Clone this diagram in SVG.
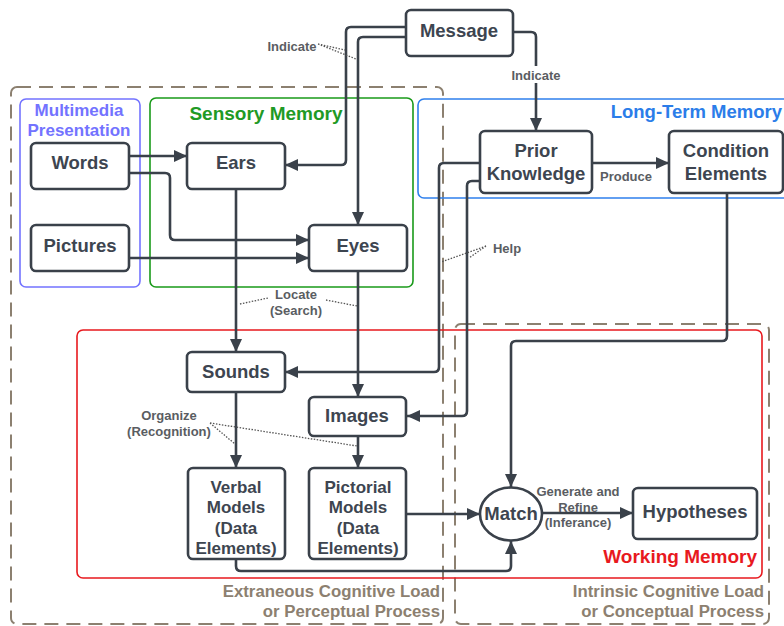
<svg xmlns="http://www.w3.org/2000/svg" width="784" height="626" viewBox="0 0 784 626">
<defs>
<marker id="arr" markerUnits="userSpaceOnUse" markerWidth="14" markerHeight="12" refX="13" refY="6" orient="auto">
<path d="M0,0 L13,6 L0,12 Z" fill="#3a414a"/>
</marker>
<style>
text{font-family:"Liberation Sans",Arial,sans-serif;font-weight:bold}
.node rect,.node ellipse{fill:#fff;stroke:#3a414a;stroke-width:2.6}
.nt{font-size:18.5px;fill:#3d4550;text-anchor:middle}
.mt{font-size:17px;fill:#3d4550;text-anchor:middle}
.lbl{font-size:13px;fill:#5a5d62;text-anchor:middle}
.con{fill:none;stroke:#3a414a;stroke-width:2.6;marker-end:url(#arr)}
.dot{fill:none;stroke:#555;stroke-width:1.3;stroke-dasharray:1.5 1.5}
.dash{fill:none;stroke:#8c8070;stroke-width:2;stroke-dasharray:14 8}
.load{font-size:16.8px;fill:#8c8070;text-anchor:end}
</style>
</defs>
<rect width="784" height="626" fill="#fff"/>
<g id="containers">
<rect class="dash" x="11" y="87" width="432" height="537" rx="6"/>
<rect class="dash" x="455" y="324" width="314" height="300" rx="6"/>
<rect x="20" y="99" width="120" height="188" rx="6" fill="none" stroke="#7373ff" stroke-width="1.6"/>
<rect x="150" y="98" width="263" height="189" rx="6" fill="none" stroke="#1a9a1a" stroke-width="1.6"/>
<rect x="418" y="99" width="380" height="99" rx="6" fill="none" stroke="#2f80ed" stroke-width="1.6"/>
<rect x="77" y="330" width="685" height="248" rx="6" fill="none" stroke="#e8191e" stroke-width="1.6"/>
<text x="79" y="116" font-size="17" fill="#7373ff" text-anchor="middle">Multimedia</text>
<text x="79" y="136" font-size="17" fill="#7373ff" text-anchor="middle">Presentation</text>
<text x="266" y="120" font-size="19" fill="#1f9a25" text-anchor="middle">Sensory Memory</text>
<text x="782" y="118" font-size="18.5" fill="#2b7de9" text-anchor="end">Long-Term Memory</text>
<text x="757" y="563" font-size="19" fill="#e8191e" text-anchor="end">Working Memory</text>
<text class="load" x="440" y="597">Extraneous Cognitive Load</text>
<text class="load" x="440" y="617">or Perceptual Process</text>
<text class="load" x="764" y="597">Intrinsic Cognitive Load</text>
<text class="load" x="764" y="617">or Conceptual Process</text>
</g>
<g id="connectors">
<path class="con" d="M129,156 H187"/>
<path class="con" d="M129,173 H165 Q170,173 170,178 V235 Q170,240 175,240 H309"/>
<path class="con" d="M129,258 H309"/>
<path class="con" d="M406,27 H351 Q346,27 346,32 V160 Q346,165 341,165 H285"/>
<path class="con" d="M406,37 H363 Q358,37 358,42 V225"/>
<path class="con" d="M513,32 H531 Q536,32 536,37 V131"/>
<path class="con" d="M592,163 H669"/>
<path class="con" d="M480,163 H444 Q439,163 439,168 V367 Q439,372 434,372 H285"/>
<path class="con" d="M480,181 H472 Q467,181 467,186 V411 Q467,416 462,416 H407"/>
<path class="con" d="M727,193 V336 Q727,341 722,341 H516 Q511,341 511,346 V487"/>
<path class="con" d="M236,189 V352"/>
<path class="con" d="M358,271 V397"/>
<path class="con" d="M236,392 V468"/>
<path class="con" d="M358,436 V468"/>
<path class="con" d="M406,514 H480"/>
<path class="con" d="M236,559 V566 Q236,571 241,571 H506 Q511,571 511,566 V541"/>
<path class="con" d="M542,513 H633"/>
<path class="dot" d="M318,44 L345,50 M318,44 L356,59"/>
<path class="dot" d="M486,246 L441,262 M486,246 L469,258"/>
<path class="dot" d="M240,304 L268,298 M326,300 L357,306"/>
<path class="dot" d="M210,423 L235,444 M210,423 L357,446"/>
<rect x="509" y="66" width="54" height="17" fill="#fff"/>
<text class="lbl" x="292" y="51">Indicate</text>
<text class="lbl" x="536" y="80">Indicate</text>
<text class="lbl" x="626" y="181">Produce</text>
<text class="lbl" x="507" y="253">Help</text>
<text class="lbl" x="296" y="299">Locate</text>
<text class="lbl" x="296" y="315">(Search)</text>
<text class="lbl" x="169" y="420">Organize</text>
<text class="lbl" x="169" y="436">(Recognition)</text>
<text class="lbl" x="578" y="496">Generate and</text>
<text class="lbl" x="578" y="512">Refine</text>
<text class="lbl" x="578" y="527">(Inferance)</text>
</g>
<g id="message" class="node"><rect x="406" y="10" width="107" height="46" rx="5"/><text class="nt" x="459" y="37">Message</text></g>
<g id="words" class="node"><rect x="31" y="143" width="98" height="46" rx="5"/><text class="nt" x="80" y="169">Words</text></g>
<g id="pictures" class="node"><rect x="31" y="225" width="98" height="46" rx="5"/><text class="nt" x="80" y="252">Pictures</text></g>
<g id="ears" class="node"><rect x="187" y="143" width="98" height="46" rx="5"/><text class="nt" x="236" y="169">Ears</text></g>
<g id="eyes" class="node"><rect x="309" y="225" width="98" height="46" rx="5"/><text class="nt" x="358" y="252">Eyes</text></g>
<g id="prior" class="node"><rect x="480" y="131" width="112" height="62" rx="5"/><text class="nt" x="536" y="157">Prior</text><text class="nt" x="536" y="180">Knowledge</text></g>
<g id="condition" class="node"><rect x="669" y="131" width="114" height="62" rx="5"/><text class="nt" x="726" y="157">Condition</text><text class="nt" x="726" y="180">Elements</text></g>
<g id="sounds" class="node"><rect x="187" y="352" width="98" height="40" rx="5"/><text class="nt" x="236" y="378">Sounds</text></g>
<g id="images" class="node"><rect x="309" y="397" width="97" height="39" rx="5"/><text class="nt" x="357" y="422">Images</text></g>
<g id="verbal" class="node"><rect x="188" y="468" width="97" height="91" rx="5"/><text class="mt" x="236" y="493">Verbal</text><text class="mt" x="236" y="513">Models</text><text class="mt" x="236" y="534">(Data</text><text class="mt" x="236" y="554">Elements)</text></g>
<g id="pictorial" class="node"><rect x="309" y="468" width="97" height="91" rx="5"/><text class="mt" x="358" y="493">Pictorial</text><text class="mt" x="358" y="513">Models</text><text class="mt" x="358" y="534">(Data</text><text class="mt" x="358" y="554">Elements)</text></g>
<g id="match" class="node"><ellipse cx="511" cy="514" rx="31" ry="26.5"/><text class="nt" x="511" y="520">Match</text></g>
<g id="hypotheses" class="node"><rect x="633" y="488" width="124" height="51" rx="5"/><text class="nt" x="695" y="518">Hypotheses</text></g>
</svg>
